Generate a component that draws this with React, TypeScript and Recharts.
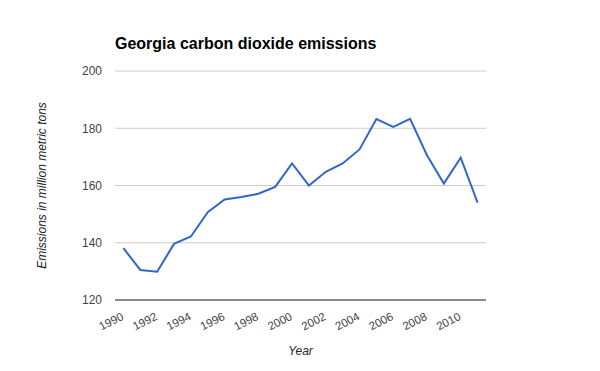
import React from 'react';
import { LineChart, Line, XAxis, YAxis, CartesianGrid } from 'recharts';

const years = [
  1990, 1991, 1992, 1993, 1994, 1995, 1996, 1997, 1998, 1999, 2000,
  2001, 2002, 2003, 2004, 2005, 2006, 2007, 2008, 2009, 2010, 2011,
];
const emissions = [
  138.1, 130.5, 129.9, 139.6, 142.2, 150.7, 155.1, 156.0, 157.1, 159.5, 167.7,
  160.0, 164.8, 167.7, 172.6, 183.2, 180.5, 183.3, 170.6, 160.7, 169.7, 154.0,
];
const xTicks = [1990, 1992, 1994, 1996, 1998, 2000, 2002, 2004, 2006, 2008, 2010];
const yTicks = [120, 140, 160, 180, 200];

const data = years.map((year, i) => ({ year, value: emissions[i] }));

const FONT = '"Liberation Sans", Arial, sans-serif';

// rotated year labels, anchored at their end just below the axis
const YearTick = (props: any) => {
  const { x, y, payload } = props;
  const tx = x + 1;
  const ty = y + 17;
  return (
    <text
      x={tx}
      y={ty}
      transform={`rotate(-27 ${tx} ${ty})`}
      textAnchor="end"
      fontSize={11.5}
      fontFamily={FONT}
      fill="#444"
    >
      {payload.value}
    </text>
  );
};

export default function App() {
  return (
    <div style={{ position: 'absolute', left: 0, top: 0, width: 600, height: 371, background: '#fff' }}>
      <LineChart
        width={600}
        height={371}
        data={data}
        margin={{ top: 71, right: 114, bottom: 0, left: 0 }}
      >
        <text x={115} y={49} fontSize={16} fontWeight="bold" fontFamily={FONT} fill="#000">
          Georgia carbon dioxide emissions
        </text>
        <CartesianGrid vertical={false} stroke="#ccc" />
        <XAxis
          dataKey="year"
          type="number"
          domain={[1989.5, 2011.5]}
          ticks={xTicks}
          interval={0}
          tick={<YearTick />}
          tickLine={false}
          tickSize={0}
          axisLine={{ stroke: '#333' }}
          height={71}
          label={{
            content: (p: any) => {
              const vb = p.viewBox;
              return (
                <text
                  x={vb.x + vb.width / 2}
                  y={355}
                  textAnchor="middle"
                  fontSize={12}
                  fontStyle="italic"
                  fontFamily={FONT}
                  fill="#222"
                >
                  Year
                </text>
              );
            },
          }}
        />
        <YAxis
          domain={[120, 200]}
          ticks={yTicks}
          interval={0}
          width={115}
          tickLine={false}
          axisLine={false}
          tickSize={0}
          tickMargin={13}
          tick={{ fontSize: 12, fontFamily: FONT, fill: '#444' }}
          label={{
            content: (p: any) => {
              const vb = p.viewBox;
              const cx = 46;
              const cy = vb.y + vb.height / 2;
              return (
                <text
                  x={cx}
                  y={cy}
                  transform={`rotate(-90 ${cx} ${cy})`}
                  textAnchor="middle"
                  fontSize={12}
                  fontStyle="italic"
                  fontFamily={FONT}
                  fill="#222"
                >
                  Emissions in million metric tons
                </text>
              );
            },
          }}
        />
        <Line
          type="linear"
          dataKey="value"
          stroke="#3366cc"
          strokeWidth={2}
          dot={false}
          isAnimationActive={false}
        />
      </LineChart>
    </div>
  );
}
